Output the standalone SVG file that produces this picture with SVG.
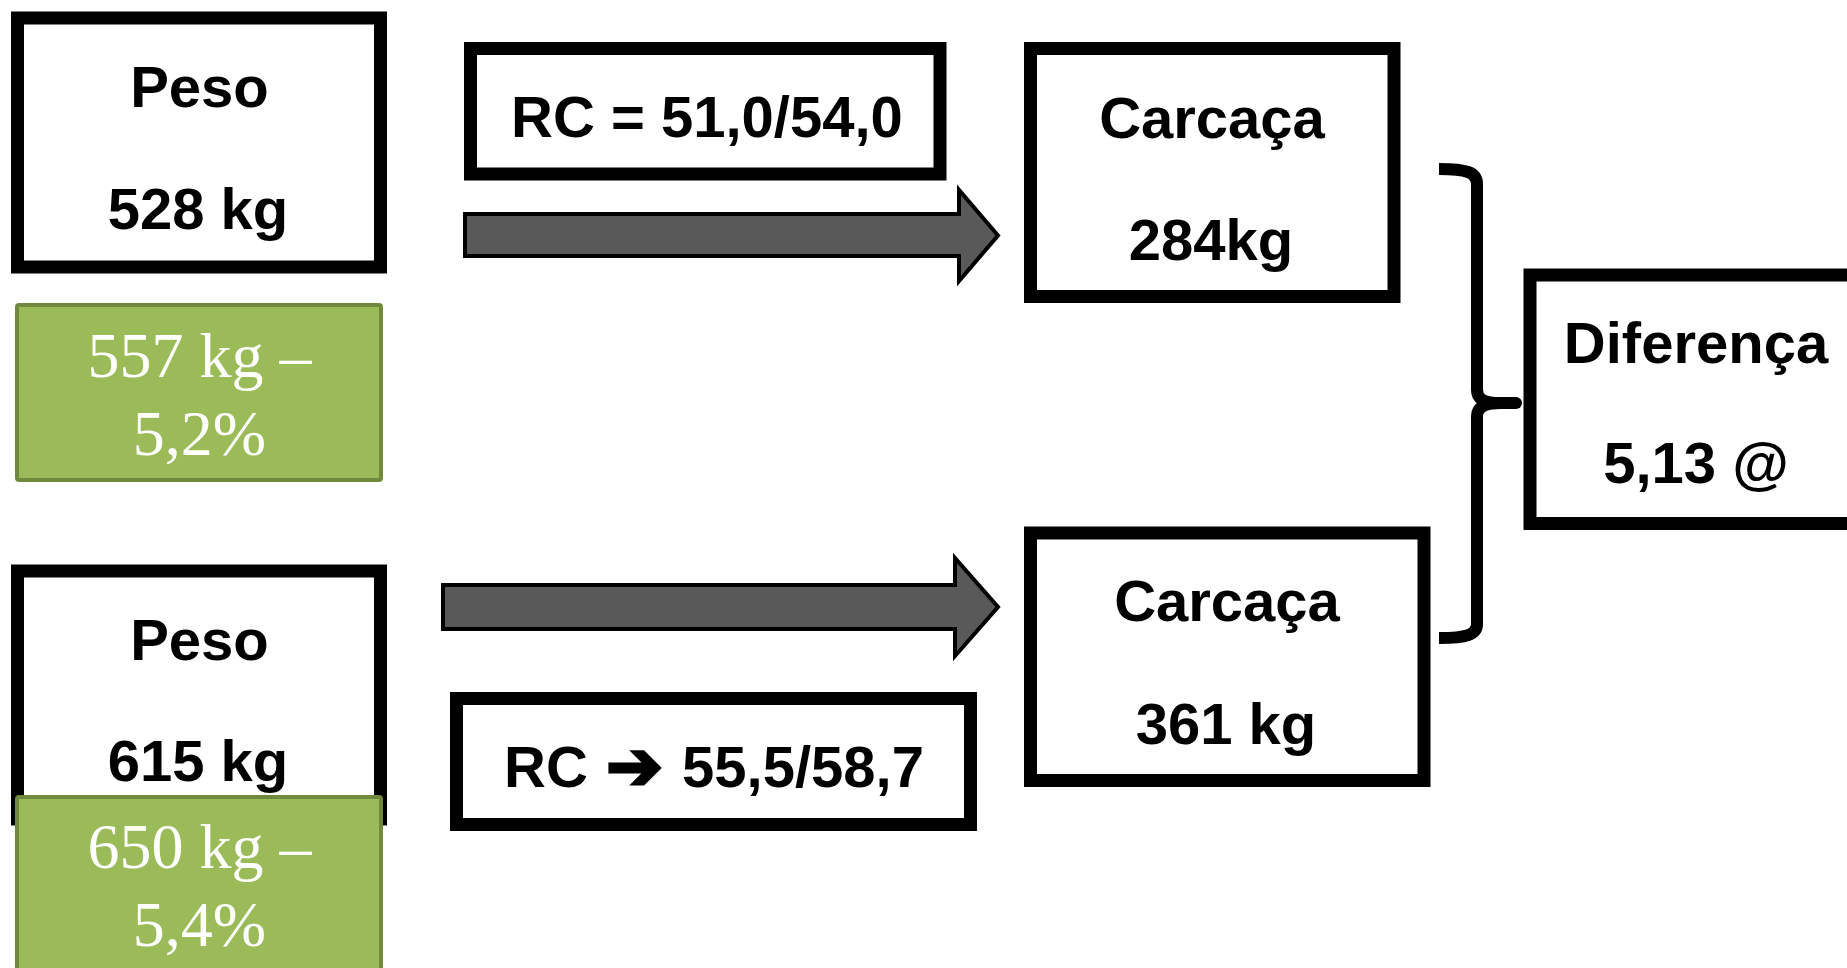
<svg xmlns="http://www.w3.org/2000/svg" width="1847" height="968" viewBox="0 0 1847 968">
<style>
.box{fill:#ffffff;stroke:#000000;stroke-width:13}
.lbl{font-family:"Liberation Sans",Arial,sans-serif;font-weight:bold;font-size:58px;fill:#000000;text-anchor:middle}
.green{fill:#9BBB59;stroke:#71893F;stroke-width:4}
.gtxt{font-family:"Liberation Serif","Times New Roman",serif;font-size:64px;fill:#ffffff;text-anchor:middle}
.arrow{fill:#595959;stroke:#000000;stroke-width:4;stroke-linejoin:miter}
.brace{fill:none;stroke:#000000;stroke-width:12;stroke-linecap:butt;stroke-linejoin:round}
.sym{font-family:"DejaVu Sans",sans-serif;font-size:68px;stroke:#000000;stroke-width:3;stroke-linejoin:miter}
</style>
<rect width="1847" height="968" fill="#ffffff"/>

<g id="connectors">
  <path class="arrow" d="M465,214 L959,214 L959,190 L998,235.5 L959,281 L959,256 L465,256 Z"/>
  <path class="arrow" d="M443,585 L955,585 L955,558 L998,607 L955,656 L955,629 L443,629 Z"/>
  <path class="brace" d="M1439,169 C1466,169 1477,172 1477,184 L1477,390 C1477,399 1484,403 1500,403 L1516,403"/>
  <path class="brace" d="M1516,403 L1500,403 C1484,403 1477,408 1477,416 L1477,624 C1477,635 1466,638 1439,638"/>
  <circle cx="1516" cy="403" r="6" fill="#000000"/>
</g>

<g id="peso1">
  <rect class="box" x="17.5" y="18" width="363" height="249"/>
  <text class="lbl" x="199.5" y="107">Peso</text>
  <text class="lbl" x="198" y="229">528 kg</text>
</g>

<g id="green1">
  <rect class="green" x="17" y="305" width="364" height="175" rx="2"/>
  <text class="gtxt" x="199.5" y="377">557 kg –</text>
  <text class="gtxt" x="199.5" y="455">5,2%</text>
</g>

<g id="rc1">
  <rect class="box" x="470.5" y="48.5" width="469.5" height="125.5"/>
  <text class="lbl" x="707" y="137">RC = 51,0/54,0</text>
</g>

<g id="carcaca1">
  <rect class="box" x="1030.5" y="48.5" width="363.5" height="248"/>
  <text class="lbl" x="1212" y="138">Carcaça</text>
  <text class="lbl" x="1211" y="260">284kg</text>
</g>

<g id="diferenca">
  <rect class="box" x="1530" y="275" width="340" height="248.5"/>
  <text class="lbl" x="1696" y="363">Diferença</text>
  <text class="lbl" x="1696" y="483">5,13 @</text>
</g>

<g id="peso2">
  <rect class="box" x="17.5" y="571" width="363" height="248"/>
  <text class="lbl" x="199.5" y="660">Peso</text>
  <text class="lbl" x="198" y="781">615 kg</text>
</g>

<g id="green2">
  <rect class="green" x="17" y="797" width="364" height="200" rx="2"/>
  <text class="gtxt" x="199.5" y="868">650 kg –</text>
  <text class="gtxt" x="199.5" y="946">5,4%</text>
</g>

<g id="rc2">
  <rect class="box" x="456.5" y="698.5" width="514" height="126"/>
  <text class="lbl" y="787" style="text-anchor:start"><tspan x="504">RC</tspan><tspan x="606" y="789" class="sym">➔</tspan><tspan x="682" y="787">55,5/58,7</tspan></text>
</g>

<g id="carcaca2">
  <rect class="box" x="1030.5" y="533" width="393.5" height="247.5"/>
  <text class="lbl" x="1227" y="621">Carcaça</text>
  <text class="lbl" x="1226" y="744">361 kg</text>
</g>
</svg>
